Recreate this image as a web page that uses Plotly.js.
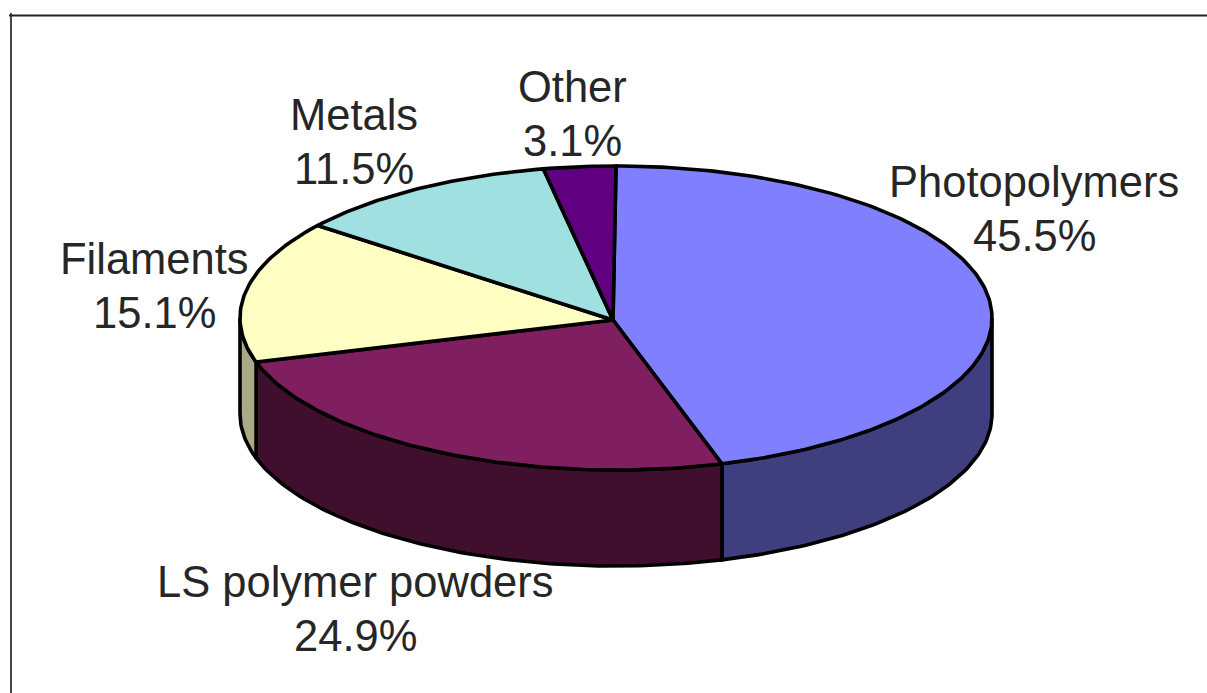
<!DOCTYPE html>
<html>
<head>
<meta charset="utf-8">
<script src="https://cdn.plot.ly/plotly-3.0.1.min.js"></script>
<style>html,body{margin:0;padding:0;background:#fff;overflow:hidden}#chart{width:1207px;height:693px}</style>
</head>
<body>
<div id="chart"></div>
<script>
// Data
const categories = ["Photopolymers", "LS polymer powders", "Filaments", "Metals", "Other"];
const shares = [45.5, 24.9, 15.1, 11.5, 3.1];

// Styles
const topColors = ["#8080ff", "#7f1f5f", "#ffffc4", "#a0e0e0", "#600080"];
const sideColors = ["#3f3f7f", "#400f2e", "#a9a987", "#6f9f9f", "#400055"];
const outline = "#000000";
const textColor = "#262626";

// Pie geometry in axis units: the ellipse has radius 1 on both axes, the axes
// stretch it. Tilted-disc depth is a fraction of the vertical radius.
const W = 1207, H = 693;
const cx = 616, cy = 318, rx = 376, ry = 152, depthPx = 96;
const depth = depthPx / ry;
const apexX = -3 / rx, apexY = -2 / ry; // the reference's slices meet slightly off-centre

const total = shares.reduce((a, b) => a + b, 0);
const rad = d => d * Math.PI / 180;
const px = a => Math.sin(rad(a));
const py = a => Math.cos(rad(a));
function arc(a0, a1) {
  const out = [];
  const n = Math.max(2, Math.ceil(Math.abs(a1 - a0)));
  for (let i = 0; i <= n; i++) out.push(a0 + (a1 - a0) * i / n);
  return out;
}

let start = 0;
const sideTraces = [], topTraces = [];
categories.forEach((name, i) => {
  const end = start + shares[i] / total * 360;
  // top face
  const t = arc(start, end);
  topTraces.push({
    type: "scatter", mode: "lines", fill: "toself", name,
    x: [apexX, ...t.map(px), apexX], y: [apexY, ...t.map(py), apexY],
    fillcolor: topColors[i],
    line: { color: outline, width: 3.6 },
    hoverinfo: "name"
  });
  // visible side wall: only the front half of the rim (90 to 270 degrees)
  const s0 = Math.max(start, 90), s1 = Math.min(end, 270);
  if (s1 > s0) {
    const s = arc(s0, s1);
    sideTraces.push({
      type: "scatter", mode: "lines", fill: "toself", name,
      x: [...s.map(px), ...s.slice().reverse().map(px), px(s0)],
      y: [...s.map(py), ...s.slice().reverse().map(a => py(a) - depth), py(s0)],
      fillcolor: sideColors[i],
      line: { color: outline, width: 3.6 },
      hoverinfo: "name"
    });
  }
  start = end;
});

// Label centres in page pixels; each label has two lines set a fixed gap apart
const labelCentres = [[1034, 209], [355, 609], [154, 286], [354, 142], [572, 114]];
const lineGap = 54;
const labelFont = { family: "Liberation Sans, Arial, sans-serif", size: 43.5, color: textColor };
const annotations = [];
categories.forEach((name, i) => {
  [[name, -lineGap / 2], [shares[i].toFixed(1) + "%", lineGap / 2]].forEach(([text, dy]) => {
    annotations.push({
      xref: "paper", yref: "paper",
      x: labelCentres[i][0] / W, y: 1 - (labelCentres[i][1] + dy) / H,
      xanchor: "center", yanchor: "middle", showarrow: false, align: "center",
      text, font: labelFont
    });
  });
});

const frame = [
  { type: "line", xref: "paper", yref: "paper", x0: 9 / W, x1: 1, y0: 1 - 15.5 / H, y1: 1 - 15.5 / H,
    line: { color: "#222222", width: 1.8 } },
  { type: "line", xref: "paper", yref: "paper", x0: 11 / W, x1: 11 / W, y0: 0, y1: 1 - 13 / H,
    line: { color: "#333333", width: 1.8 } }
];

const layout = {
  width: W, height: H, margin: { l: 0, r: 0, t: 0, b: 0 },
  paper_bgcolor: "#ffffff", plot_bgcolor: "#ffffff", showlegend: false,
  xaxis: { range: [(0 - cx) / rx, (W - cx) / rx], visible: false, fixedrange: true },
  yaxis: { range: [(cy - H) / ry, cy / ry], visible: false, fixedrange: true },
  annotations, shapes: frame
};

Plotly.newPlot("chart", [...sideTraces, ...topTraces], layout, { displayModeBar: false, staticPlot: true });
</script>
</body>
</html>
